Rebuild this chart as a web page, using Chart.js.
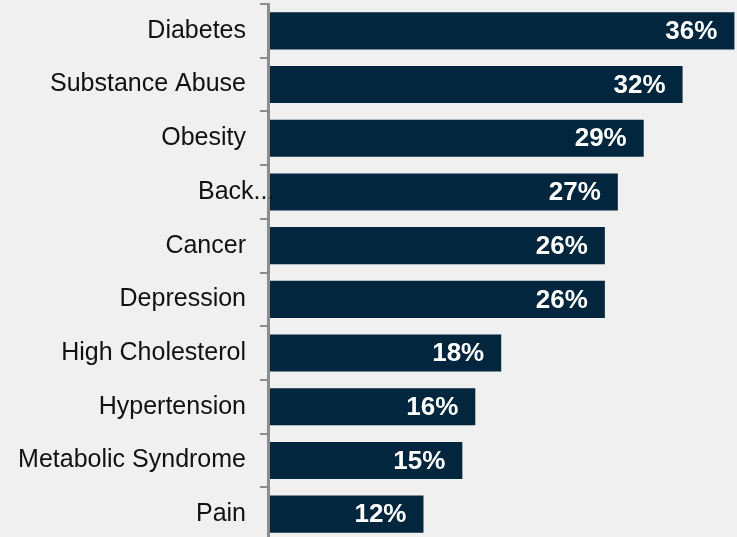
<!DOCTYPE html>
<html>
<head>
<meta charset="utf-8">
<script src="https://cdn.jsdelivr.net/npm/chart.js@4/dist/chart.umd.min.js"></script>
<style>
  html, body { margin: 0; padding: 0; background: #f0f0f0; overflow: hidden; }
  #wrap { width: 737px; height: 541px; position: relative; }
</style>
</head>
<body>
<div id="wrap"><canvas id="c"></canvas></div>
<script>
// Share of respondents by condition (%)
const conditions = [
  'Diabetes', 'Substance Abuse', 'Obesity', 'Back...', 'Cancer',
  'Depression', 'High Cholesterol', 'Hypertension', 'Metabolic Syndrome', 'Pain'
];
const shares = [36, 32, 29, 27, 26, 26, 18, 16, 15, 12];

const BAR = '#02263e';
const AXIS = '#8c8c8c';
const LABEL_FONT = '"Liberation Sans", Arial, sans-serif';

// Value labels inside the right end of each bar, plus the one category label
// that is too long for its slot and runs across the axis line.
const labelsPlugin = {
  id: 'barLabels',
  afterDatasetsDraw(chart) {
    const ctx = chart.ctx;
    const meta = chart.getDatasetMeta(0);
    ctx.save();
    ctx.fillStyle = '#ffffff';
    ctx.font = 'bold 26px ' + LABEL_FONT;
    ctx.textAlign = 'right';
    ctx.textBaseline = 'middle';
    meta.data.forEach((bar, i) => {
      ctx.fillText(shares[i] + '%', bar.x - 17, bar.y + 1);
    });
    ctx.restore();
  },
  afterDraw(chart) {
    const ctx = chart.ctx;
    const y = chart.scales.y;
    const i = conditions.indexOf('Back...');
    if (i < 0) return;
    ctx.save();
    ctx.fillStyle = '#111111';
    ctx.font = '25px ' + LABEL_FONT;
    ctx.textAlign = 'left';
    ctx.textBaseline = 'middle';
    ctx.fillText(conditions[i], chart.chartArea.left - 70, y.getPixelForValue(i));
    ctx.restore();
  }
};

new Chart(document.getElementById('c'), {
  type: 'bar',
  data: {
    labels: conditions,
    datasets: [{
      data: shares,
      backgroundColor: BAR,
      borderWidth: 0,
      barPercentage: 0.69,
      categoryPercentage: 1.0
    }]
  },
  options: {
    indexAxis: 'y',
    responsive: true,
    maintainAspectRatio: false,
    animation: false,
    layout: { padding: { top: 4, left: 0, right: 0, bottom: 0 } },
    plugins: {
      legend: { display: false },
      tooltip: { enabled: false }
    },
    scales: {
      x: {
        display: false,
        min: 0,
        max: 36.2
      },
      y: {
        afterFit(scale) {
          scale.width = 268;
          scale.paddingTop = 0;
          scale.paddingBottom = 0;
        },
        border: { display: true, color: AXIS, width: 3, z: 1 },
        grid: {
          display: true,
          offset: true,
          drawOnChartArea: false,
          drawTicks: true,
          tickLength: 8,
          color: AXIS,
          lineWidth: 2
        },
        ticks: {
          padding: 14,
          color: '#111111',
          font: { family: LABEL_FONT, size: 25 },
          callback(value, index) {
            const t = conditions[index];
            return t === 'Back...' ? '' : t;
          }
        }
      }
    }
  },
  plugins: [labelsPlugin]
});
</script>
</body>
</html>
